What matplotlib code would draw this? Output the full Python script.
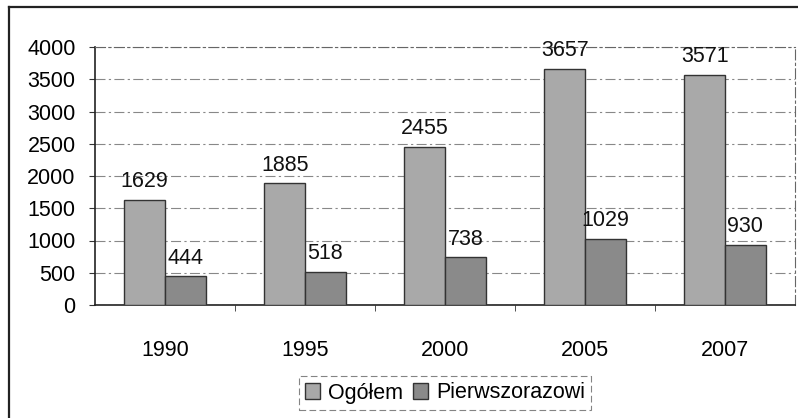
import matplotlib
matplotlib.use("Agg")
import matplotlib.pyplot as plt
from matplotlib.lines import Line2D
import numpy as np

# data
years = ["1990", "1995", "2000", "2005", "2007"]
ogolem = [1629, 1885, 2455, 3657, 3571]
pierwszorazowi = [444, 518, 738, 1029, 930]
series_names = ["Ogółem", "Pierwszorazowi"]

plt.rcParams['font.family'] = ['Liberation Sans', 'DejaVu Sans']
FS = 15.5

fig = plt.figure(figsize=(7.98, 4.18), dpi=100)
ax = fig.add_axes([95/798, 1 - 305/418, 700/798, 258/418])

x = np.arange(len(years))
w = 0.29
b1 = ax.bar(x - w/2, ogolem, w, color="#a9a9a9", edgecolor="#333333", linewidth=1.0,
            label=series_names[0], zorder=3)
b2 = ax.bar(x + w/2, pierwszorazowi, w, color="#8a8a8a", edgecolor="#333333", linewidth=1.0,
            label=series_names[1], zorder=3)

# value labels above bars
for bars in (b1, b2):
    for r in bars:
        ax.annotate(str(int(r.get_height())), (r.get_x() + r.get_width()/2, r.get_height()),
                    xytext=(0, 5.5), textcoords="offset points", ha="center", va="bottom",
                    fontsize=FS, color="#111111")

ax.set_xlim(-0.5, len(years) - 0.5)
ax.set_ylim(0, 4000)
ax.set_yticks(np.arange(0, 4001, 500))
ax.yaxis.grid(True, color="#888888", linewidth=0.8, linestyle=(0, (9, 3, 2, 3)), zorder=0)
ax.set_axisbelow(True)

# year labels at centres, tick marks between groups
ax.set_xticks(x)
ax.set_xticklabels(years)
ax.set_xticks(np.arange(0.5, len(years) - 0.5, 1), minor=True)
ax.tick_params(axis="x", which="major", length=0, pad=25, labelsize=FS)
ax.tick_params(axis="x", which="minor", length=4, direction="out", color="#333333")
ax.tick_params(axis="y", length=4, direction="out", pad=10, labelsize=FS, color="#333333")

for s in ("left", "bottom"):
    ax.spines[s].set_color("#222222")
    ax.spines[s].set_linewidth(1.2)
for s in ("top", "right"):
    ax.spines[s].set_color("#666666")
    ax.spines[s].set_linewidth(0.8)
    ax.spines[s].set_linestyle((0, (9, 3, 2, 3)))

leg = ax.legend(loc="center", bbox_to_anchor=(0.5, -(393 - 305)/258), ncol=2,
                fontsize=FS, frameon=True, fancybox=False, handlelength=0.7,
                handleheight=0.7, handletextpad=0.35, columnspacing=0.5,
                borderpad=0.3, borderaxespad=0)
leg.get_frame().set_edgecolor("#666666")
leg.get_frame().set_linewidth(0.8)
leg.get_frame().set_linestyle((0, (6, 3)))

# outer chart frame (only left and top visible in the scan)
fig.add_artist(Line2D([9/798, 9/798], [0, 1 - 7/418], color="#222222", linewidth=1.6))
fig.add_artist(Line2D([9/798, 1], [1 - 7/418, 1 - 7/418], color="#222222", linewidth=1.6))

fig.savefig("out.png", dpi=100)
